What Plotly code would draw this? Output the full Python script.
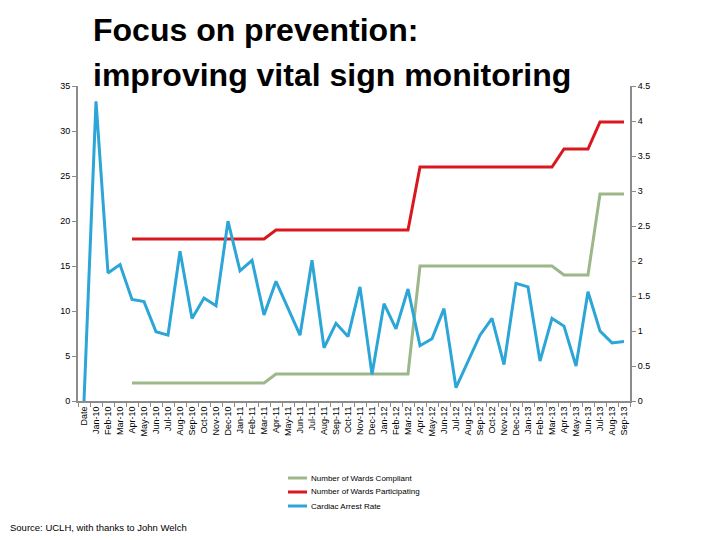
import plotly.graph_objects as go

months = ["Jan", "Feb", "Mar", "Apr", "May", "Jun", "Jul", "Aug", "Sep", "Oct", "Nov", "Dec"]
categories = ["Date"] + [f"{m}-{y}" for y in ["10", "11", "12", "13"] for m in months][:45]

wards_compliant = [None, None, None, None, 2, 2, 2, 2, 2, 2, 2, 2, 2, 2, 2, 2,
                   3, 3, 3, 3, 3, 3, 3, 3, 3, 3, 3, 3,
                   15, 15, 15, 15, 15, 15, 15, 15, 15, 15, 15, 15,
                   14, 14, 14, 23, 23, 23]
wards_participating = [None, None, None, None, 18, 18, 18, 18, 18, 18, 18, 18, 18, 18, 18, 18,
                       19, 19, 19, 19, 19, 19, 19, 19, 19, 19, 19, 19,
                       26, 26, 26, 26, 26, 26, 26, 26, 26, 26, 26, 26,
                       28, 28, 28, 31, 31, 31]
cardiac_arrest_rate = [0, 4.28, 1.83, 1.95, 1.45, 1.42, 0.99, 0.94, 2.14, 1.18, 1.47, 1.36,
                       2.57, 1.86, 2.01, 1.23, 1.71, 1.32, 0.94, 2.01, 0.76, 1.11, 0.92, 1.63,
                       0.38, 1.39, 1.03, 1.60, 0.79, 0.89, 1.32, 0.19, 0.57, 0.94, 1.18, 0.52,
                       1.68, 1.63, 0.57, 1.18, 1.07, 0.50, 1.56, 1.00, 0.83, 0.85]

series_names = ["Number of Wards Compliant", "Number of Wards Participating", "Cardiac Arrest Rate"]

left_ticks = [0, 5, 10, 15, 20, 25, 30, 35]
right_ticks = [0, 0.5, 1, 1.5, 2, 2.5, 3, 3.5, 4, 4.5]

GREEN = "#9CB78A"
RED = "#D9171E"
BLUE = "#2CA5D7"
AXIS = "#8C8C8C"
FONT = "Liberation Sans, Arial, sans-serif"
colors = [GREEN, RED, BLUE]

fig = go.Figure()
fig.add_trace(go.Scatter(x=categories, y=wards_compliant, mode="lines",
                         name=series_names[0], showlegend=False,
                         line=dict(color=GREEN, width=3)))
fig.add_trace(go.Scatter(x=categories, y=wards_participating, mode="lines",
                         name=series_names[1], showlegend=False,
                         line=dict(color=RED, width=3)))
fig.add_trace(go.Scatter(x=categories, y=cardiac_arrest_rate, mode="lines",
                         name=series_names[2], yaxis="y2", showlegend=False,
                         line=dict(color=BLUE, width=3)))

# page body has an 8px margin; compensate so the plot lands where the reference has it
OFF = 8
PLOT_L, PLOT_T, PLOT_B, PLOT_R = 78, 86, 401, 630
PW = PLOT_R - PLOT_L
PH = PLOT_B - PLOT_T
L = PLOT_L - OFF
T = PLOT_T - OFF
R = 720 - L - PW
B = 540 - T - PH


def px_x(p):
    return (p - PLOT_L) / PW


def px_y(p):
    return (PLOT_B - p) / PH


fig.update_layout(
    width=720, height=540,
    margin=dict(l=L, r=R, t=T, b=B),
    paper_bgcolor="white", plot_bgcolor="white",
    font=dict(family=FONT, size=9, color="black"),
    showlegend=False,
    xaxis=dict(type="category", categoryorder="array", categoryarray=categories,
               tickangle=-90, showgrid=False, zeroline=False,
               showline=True, linecolor=AXIS, linewidth=2,
               ticks="outside", tickson="boundaries", ticklen=4, tickcolor=AXIS,
               tickfont=dict(size=9), range=[-0.5, len(categories) - 0.5]),
    yaxis=dict(range=[0, 35], tickvals=left_ticks, showgrid=False, zeroline=False,
               showline=True, linecolor=AXIS, linewidth=2,
               ticks="outside", ticklen=4, tickcolor=AXIS, tickfont=dict(size=9)),
    yaxis2=dict(range=[0, 4.5], tickvals=right_ticks, overlaying="y", side="right",
                showgrid=False, zeroline=False,
                showline=True, linecolor=AXIS, linewidth=2,
                ticks="outside", ticklen=4, tickcolor=AXIS, tickfont=dict(size=9)),
)

# legend drawn as line samples + labels
legend_rows = [478, 492, 506]
for name, col, ry in zip(series_names, colors, legend_rows):
    fig.add_shape(type="line", xref="paper", yref="paper",
                  x0=px_x(288), x1=px_x(307), y0=px_y(ry), y1=px_y(ry),
                  line=dict(color=col, width=3))
    fig.add_annotation(text=name, xref="paper", yref="paper",
                       x=px_x(309), y=px_y(ry), xanchor="left", yanchor="middle",
                       showarrow=False, font=dict(size=8, family=FONT, color="black"))

fig.add_annotation(text="<b>Focus on prevention:</b>", xref="paper", yref="paper",
                   x=px_x(91), y=px_y(30), xanchor="left", yanchor="middle",
                   showarrow=False, font=dict(size=32, family=FONT, color="black"))
fig.add_annotation(text="<b>improving vital sign monitoring</b>", xref="paper", yref="paper",
                   x=px_x(91), y=px_y(75), xanchor="left", yanchor="middle",
                   showarrow=False, font=dict(size=32, family=FONT, color="black"))
fig.add_annotation(text="Source: UCLH, with thanks to John Welch", xref="paper", yref="paper",
                   x=px_x(8), y=px_y(527), xanchor="left", yanchor="middle",
                   showarrow=False, font=dict(size=9.5, family=FONT, color="black"))

fig.write_html("out.html")
